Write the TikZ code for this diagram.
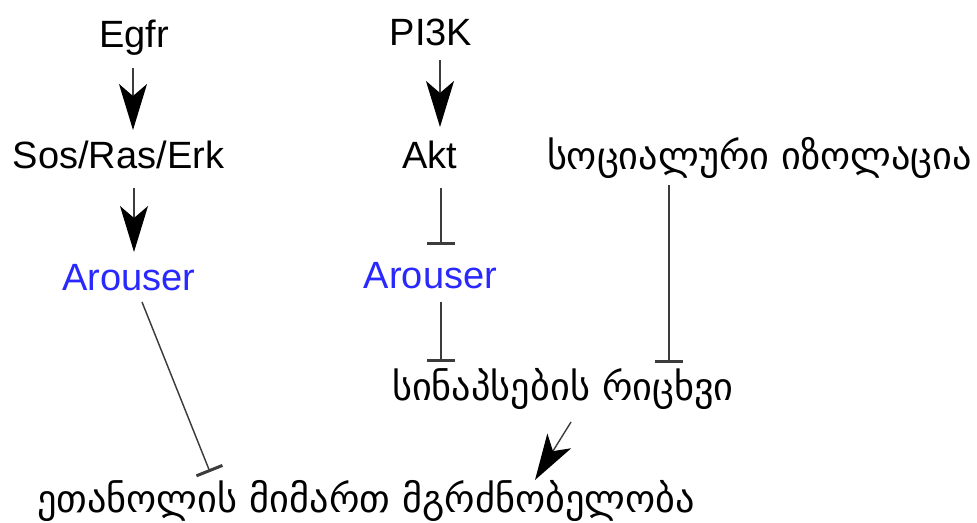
\documentclass[tikz,border=0pt]{standalone}
\usepackage{fontspec}
\setmainfont{Liberation Sans}
\newfontfamily\geofont[Script=Georgian]{DejaVu Sans}
\usetikzlibrary{arrows.meta,calc}
\definecolor{arouserblue}{RGB}{40,40,255}
\definecolor{linkgray}{RGB}{60,60,60}
\tikzset{
  x=1pt, y=-1pt,
  lbl/.style={anchor=base, inner sep=0pt, font=\fontsize{38}{40}\selectfont},
  geo/.style={anchor=base, inner sep=0pt, font=\geofont\fontsize{38.3}{44}\selectfont},
  blue/.style={text=arouserblue},
  act/.style={draw=linkgray, line width=1.4pt,
    -{Stealth[length=46pt, width=28pt, inset=12pt, color=black]}},
  inh/.style={draw=linkgray, line width=1.4pt,
    -{Bar[width=28pt, line width=3pt]}},
}
\begin{document}
\begin{tikzpicture}
\useasboundingbox (0,0) rectangle (977,522);
% left pathway
\node[lbl] (egfr) at (134,47) {Egfr};
\node[lbl] (sos) at (118.5,168) {Sos/Ras/Erk};
\node[lbl, blue] (arl) at (129,290) {Arouser};
% middle pathway
\node[lbl] (pik) at (431,45) {PI3K};
\node[lbl] (akt) at (430,168) {Akt};
\node[lbl, blue] (arm) at (430.5,288) {Arouser};
% social isolation, synapses, outcome
\node[geo] (soc) at (759.5,169) {სოციალური იზოლაცია};
\node[geo] (syn) at (563,400) {სინაპსების რიცხვი};
\node[geo] (eth) at (366,512) {ეთანოლის მიმართ მგრძნობელობა};
% activations
\draw[act] ($(egfr.base)+(-1,21)$) -- ($(sos.base)+(14.5,-38)$);
\draw[act] ($(sos.base)+(15.5,20)$) -- ($(arl.base)+(5,-38)$);
\draw[act] ($(pik.base)+(9,15)$) -- ($(akt.base)+(10,-41)$);
\draw[act] ($(syn.base)+(8,22)$) -- ($(eth.base)+(169,-32)$);
% inhibitions
\draw[inh] ($(akt.base)+(11,20)$) -- ($(arm.base)+(10.5,-43)$);
\draw[inh] ($(arm.base)+(10.5,14)$) -- ($(syn.base)+(-122,-38)$);
\draw[inh] ($(soc.base)+(-90.5,16)$) -- ($(syn.base)+(106,-37)$);
\draw[inh] ($(arl.base)+(13,12)$) -- ($(eth.base)+(-156,-40)$);
\end{tikzpicture}
\end{document}
